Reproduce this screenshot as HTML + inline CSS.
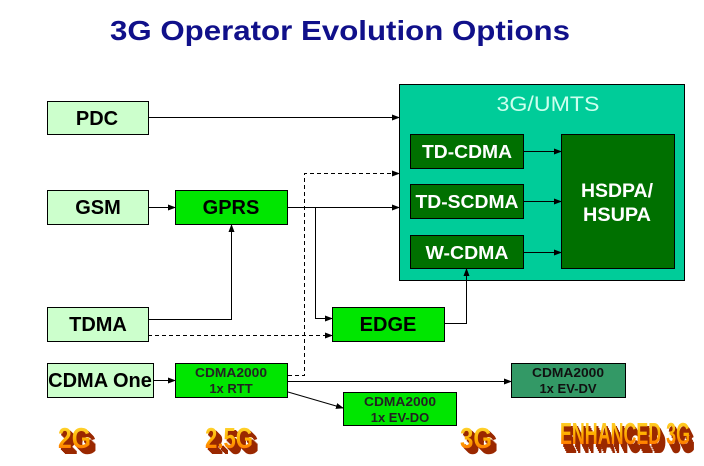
<!DOCTYPE html>
<html><head><meta charset="utf-8"><style>
html,body{margin:0;padding:0;background:#fff;}
svg{display:block;}
text{font-family:"Liberation Sans",Arial,sans-serif;}
</style></head><body>
<svg width="704" height="466" viewBox="0 0 704 466" xmlns="http://www.w3.org/2000/svg">
<defs>
<marker id="a" markerWidth="8" markerHeight="6" refX="7" refY="3" orient="auto" markerUnits="userSpaceOnUse">
<path d="M0,0 L8,3 L0,6 z" fill="#000"/></marker>
<linearGradient id="wg" x1="0" y1="0" x2="0" y2="1">
<stop offset="0" stop-color="#ffe040"/><stop offset="0.5" stop-color="#ffb000"/><stop offset="1" stop-color="#ff5a00"/></linearGradient>
</defs>
<rect width="704" height="466" fill="#fff"/>
<text x="340" y="40" text-anchor="middle" font-size="28" font-weight="bold" fill="#10108a" textLength="460" lengthAdjust="spacingAndGlyphs">3G Operator Evolution Options</text>

<!-- 3G/UMTS container -->
<rect x="399.5" y="84.5" width="285" height="196" fill="#00cc99" stroke="#000"/>
<text x="548" y="111" text-anchor="middle" font-size="21" fill="#ccffee" textLength="103" lengthAdjust="spacingAndGlyphs">3G/UMTS</text>
<rect x="410.5" y="134.5" width="113" height="34" fill="#007000" stroke="#000"/>
<text x="467" y="158" text-anchor="middle" font-size="18" font-weight="bold" fill="#fff" textLength="90" lengthAdjust="spacingAndGlyphs">TD-CDMA</text>
<rect x="410.5" y="184.5" width="113" height="34" fill="#007000" stroke="#000"/>
<text x="467" y="208" text-anchor="middle" font-size="18" font-weight="bold" fill="#fff" textLength="103" lengthAdjust="spacingAndGlyphs">TD-SCDMA</text>
<rect x="410.5" y="235.5" width="113" height="33" fill="#007000" stroke="#000"/>
<text x="467" y="259" text-anchor="middle" font-size="18" font-weight="bold" fill="#fff" textLength="83" lengthAdjust="spacingAndGlyphs">W-CDMA</text>
<rect x="561.5" y="134.5" width="113" height="134" fill="#007000" stroke="#000"/>
<text x="617" y="197" text-anchor="middle" font-size="19" font-weight="bold" fill="#fff" textLength="72" lengthAdjust="spacingAndGlyphs">HSDPA/</text>
<text x="617" y="221" text-anchor="middle" font-size="19" font-weight="bold" fill="#fff" textLength="68" lengthAdjust="spacingAndGlyphs">HSUPA</text>

<!-- left boxes -->
<rect x="47.5" y="101.5" width="101" height="33" fill="#ccffcc" stroke="#000"/>
<text x="97" y="125" text-anchor="middle" font-size="20" font-weight="bold" fill="#000">PDC</text>
<rect x="47.5" y="190.5" width="101" height="34" fill="#ccffcc" stroke="#000"/>
<text x="98" y="214" text-anchor="middle" font-size="20" font-weight="bold" fill="#000">GSM</text>
<rect x="47.5" y="307.5" width="101" height="34" fill="#ccffcc" stroke="#000"/>
<text x="98" y="331" text-anchor="middle" font-size="20" font-weight="bold" fill="#000">TDMA</text>
<rect x="47.5" y="363.5" width="106" height="34" fill="#ccffcc" stroke="#000"/>
<text x="100" y="387" text-anchor="middle" font-size="20" font-weight="bold" fill="#000">CDMA One</text>

<rect x="175.5" y="190.5" width="112" height="34" fill="#00e600" stroke="#000"/>
<text x="231" y="214" text-anchor="middle" font-size="20" font-weight="bold" fill="#000">GPRS</text>
<rect x="175.5" y="363.5" width="112" height="34" fill="#00e600" stroke="#000"/>
<text x="231" y="377" text-anchor="middle" font-size="13" font-weight="bold" fill="#222" textLength="72" lengthAdjust="spacingAndGlyphs">CDMA2000</text>
<text x="231" y="393" text-anchor="middle" font-size="13" font-weight="bold" fill="#222">1x RTT</text>

<rect x="332.5" y="307.5" width="112" height="34" fill="#00e600" stroke="#000"/>
<text x="388" y="331" text-anchor="middle" font-size="20" font-weight="bold" fill="#000">EDGE</text>
<rect x="343.5" y="392.5" width="113" height="33" fill="#00e600" stroke="#000"/>
<text x="400" y="406" text-anchor="middle" font-size="13" font-weight="bold" fill="#222" textLength="72" lengthAdjust="spacingAndGlyphs">CDMA2000</text>
<text x="400" y="422" text-anchor="middle" font-size="13" font-weight="bold" fill="#222">1x EV-DO</text>
<rect x="511.5" y="363.5" width="114" height="34" fill="#339966" stroke="#000"/>
<text x="568" y="377" text-anchor="middle" font-size="13" font-weight="bold" fill="#111" textLength="72" lengthAdjust="spacingAndGlyphs">CDMA2000</text>
<text x="568" y="393" text-anchor="middle" font-size="13" font-weight="bold" fill="#111">1x EV-DV</text>

<!-- connectors -->
<g stroke="#000" stroke-width="1" fill="none">
<path d="M148,117.5 H399" marker-end="url(#a)"/>
<path d="M148,207.5 H175" marker-end="url(#a)"/>
<path d="M288,207.5 H399" marker-end="url(#a)"/>
<path d="M315.5,207.5 V318.5 H332" marker-end="url(#a)"/>
<path d="M148,319.5 H231.5 V225" marker-end="url(#a)"/>
<path d="M148,335.5 H332" stroke-dasharray="4,3" marker-end="url(#a)"/>
<path d="M288,375.5 H304.5 V173.5 H399" stroke-dasharray="4,3" marker-end="url(#a)"/>
<path d="M288,381.5 H511" marker-end="url(#a)"/>
<path d="M288,392 L343,408" marker-end="url(#a)"/>
<path d="M153,380.5 H175" marker-end="url(#a)"/>
<path d="M444,323.5 H466.5 V269" marker-end="url(#a)"/>
<path d="M523,151.5 H561" marker-end="url(#a)"/>
<path d="M523,201.5 H561" marker-end="url(#a)"/>
<path d="M523,252.5 H561" marker-end="url(#a)"/>
</g>

<!-- word art -->
<g font-family="'Liberation Sans Narrow','Liberation Sans',sans-serif" font-weight="bold">
<g fill="#9a2800">
<text x="64" y="454" font-size="29" textLength="33" lengthAdjust="spacingAndGlyphs">2G</text>
<text x="63" y="453" font-size="29" textLength="33" lengthAdjust="spacingAndGlyphs">2G</text>
<text x="62" y="452" font-size="29" textLength="33" lengthAdjust="spacingAndGlyphs">2G</text>
<text x="61" y="451" font-size="29" textLength="33" lengthAdjust="spacingAndGlyphs">2G</text>
<text x="60" y="450" font-size="29" textLength="33" lengthAdjust="spacingAndGlyphs">2G</text>
<text x="211" y="454" font-size="29" textLength="48" lengthAdjust="spacingAndGlyphs">2.5G</text>
<text x="210" y="453" font-size="29" textLength="48" lengthAdjust="spacingAndGlyphs">2.5G</text>
<text x="209" y="452" font-size="29" textLength="48" lengthAdjust="spacingAndGlyphs">2.5G</text>
<text x="208" y="451" font-size="29" textLength="48" lengthAdjust="spacingAndGlyphs">2.5G</text>
<text x="207" y="450" font-size="29" textLength="48" lengthAdjust="spacingAndGlyphs">2.5G</text>
<text x="466" y="454" font-size="29" textLength="32" lengthAdjust="spacingAndGlyphs">3G</text>
<text x="465" y="453" font-size="29" textLength="32" lengthAdjust="spacingAndGlyphs">3G</text>
<text x="464" y="452" font-size="29" textLength="32" lengthAdjust="spacingAndGlyphs">3G</text>
<text x="463" y="451" font-size="29" textLength="32" lengthAdjust="spacingAndGlyphs">3G</text>
<text x="462" y="450" font-size="29" textLength="32" lengthAdjust="spacingAndGlyphs">3G</text>
<text x="565" y="453" font-size="31" textLength="130" lengthAdjust="spacingAndGlyphs">ENHANCED 3G</text>
<text x="564" y="451" font-size="31" textLength="130" lengthAdjust="spacingAndGlyphs">ENHANCED 3G</text>
<text x="563" y="449" font-size="31" textLength="130" lengthAdjust="spacingAndGlyphs">ENHANCED 3G</text>
<text x="562" y="447" font-size="31" textLength="130" lengthAdjust="spacingAndGlyphs">ENHANCED 3G</text>
</g>
<g fill="url(#wg)">
<text x="58" y="448" font-size="29" textLength="33" lengthAdjust="spacingAndGlyphs">2G</text>
<text x="205" y="448" font-size="29" textLength="48" lengthAdjust="spacingAndGlyphs">2.5G</text>
<text x="460" y="448" font-size="29" textLength="32" lengthAdjust="spacingAndGlyphs">3G</text>
<text x="560" y="444" font-size="31" textLength="130" lengthAdjust="spacingAndGlyphs">ENHANCED 3G</text>
</g>
</g>
</svg>
</body></html>
